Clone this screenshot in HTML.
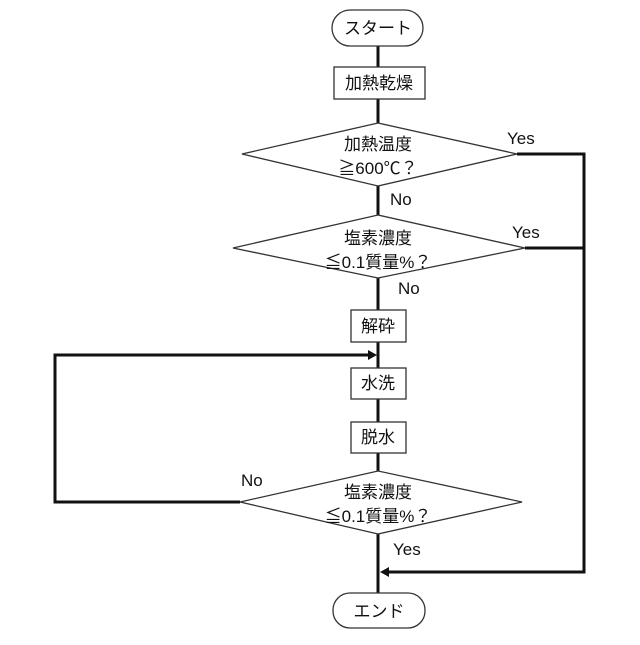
<!DOCTYPE html>
<html><head><meta charset="utf-8"><style>
body{margin:0;background:#fff}
svg text{font-family:"Liberation Sans","Noto Sans CJK JP",sans-serif;font-size:17px;fill:#111}
</style></head><body>
<svg width="640" height="640" viewBox="0 0 640 640" xmlns="http://www.w3.org/2000/svg">
<g stroke="#111" stroke-width="3" fill="none">
<line x1="378" y1="46" x2="378" y2="67"/>
<line x1="378" y1="99" x2="378" y2="123"/>
<line x1="378" y1="186" x2="378" y2="215"/>
<line x1="378" y1="278" x2="378" y2="310"/>
<line x1="378" y1="342" x2="378" y2="368"/>
<line x1="378" y1="399" x2="378" y2="422"/>
<line x1="378" y1="453" x2="378" y2="471"/>
<line x1="378" y1="534" x2="378" y2="593"/>
<polyline points="517,154 584,154 584,572 386,572"/>
<line x1="525" y1="248" x2="584" y2="248"/>
<polyline points="240,502 55,502 55,355 370,355"/>
</g>
<polygon points="380,572 389,567 389,577" fill="#111"/>
<polygon points="377,355 368,350 368,360" fill="#111"/>
<g stroke="#333" stroke-width="1.3" fill="#fff">
<rect x="332" y="10" width="91" height="36" rx="18"/>
<rect x="334" y="67" width="91" height="32"/>
<polygon points="242,154 378,123 517,154 378,186"/>
<polygon points="233,248 378,215 525,248 378,278"/>
<rect x="351" y="310" width="55" height="32"/>
<rect x="351" y="368" width="55" height="31"/>
<rect x="351" y="422" width="55" height="31"/>
<polygon points="240,502 378,471 522,502 378,534"/>
<rect x="333" y="593" width="92" height="35" rx="17"/>
</g>
<g text-anchor="middle">
<text x="378" y="34">スタート</text>
<text x="379" y="89">加熱乾燥</text>
<text x="378" y="150">加熱温度</text>
<text x="378" y="174">≧600℃？</text>
<text x="378" y="244">塩素濃度</text>
<text x="378" y="268">≦0.1質量%？</text>
<text x="378" y="332">解砕</text>
<text x="378" y="389">水洗</text>
<text x="378" y="443">脱水</text>
<text x="378" y="498">塩素濃度</text>
<text x="378" y="522">≦0.1質量%？</text>
<text x="379" y="617">エンド</text>
</g>
<text x="507" y="144">Yes</text>
<text x="512" y="238">Yes</text>
<text x="390" y="205">No</text>
<text x="398" y="294">No</text>
<text x="241" y="486">No</text>
<text x="393" y="555">Yes</text>
</svg>
</body></html>
